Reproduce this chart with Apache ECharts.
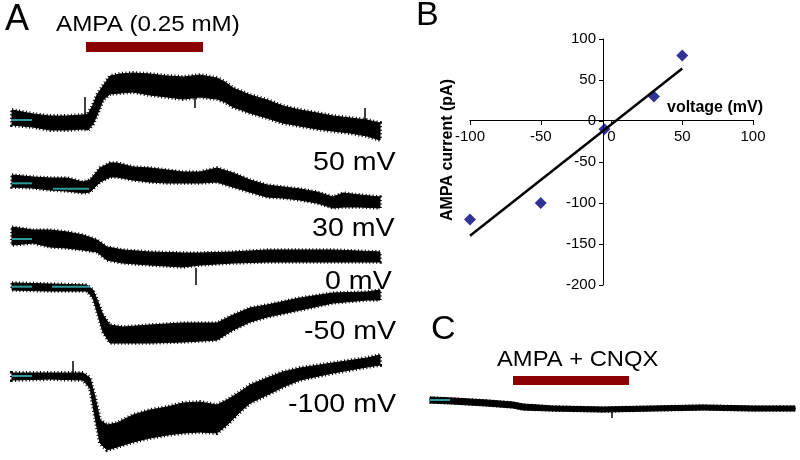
<!DOCTYPE html>
<html><head><meta charset="utf-8">
<script src="https://cdn.jsdelivr.net/npm/echarts@6/dist/echarts.min.js"></script>
<style>html,body{margin:0;padding:0;background:#fff}#c{width:800px;height:460px}</style>
</head><body><div id="c"></div>
<script>
// ---------- DATA ----------
// Panel A traces: time (arbitrary units), upper / lower envelope of the noisy current (relative to baseline)
const t50 = [0,21,38,55,71,76,81,85,91,98,108,121,138,155,171,188,205,213,221,238,255,271,288,305,321,338,355,368];
const hi50 = [10,6,4,4,5,6,15,25,34,44,46,47,46,44,43,45,42,38,32,25,20,14,10,7,4,2,0,-3];
const lo50 = [-5,-7,-10,-10,-9,-10,-4,5,20,26,27,28,25,23,21,23,21,18,13,7,2,-3,-6,-9,-11,-13,-16,-20];

const t30 = [0,21,38,55,71,78,88,98,105,121,138,155,171,188,205,221,238,255,271,288,305,321,331,348,368];
const hi30 = [9,7,6,6,2,4,16,21,21,17,16,14,12,12,16,11,4,-1,-3,-5,-8,-13,-9,-11,-13];
const lo30 = [-3,-4,-6,-7,-9,-8,2,7,7,4,2,1,1,1,2,-3,-8,-13,-14,-16,-19,-24,-23,-23,-24];

const t0 = [0,21,38,55,71,85,95,111,138,171,188,221,255,288,321,368];
const hi0 = [12,9,9,7,4,-1,-8,-11,-13,-14,-14,-13,-11,-11,-11,-13];
const lo0 = [-6,-4,-8,-9,-11,-13,-21,-24,-26,-28,-26,-24,-23,-23,-23,-23];

const tm50 = [0,38,75,81,86,91,98,111,138,171,205,221,238,255,288,321,355,368];
const him50 = [4,3,2,-3,-15,-28,-38,-40,-38,-36,-36,-28,-21,-18,-11,-6,-5,-3];
const lom50 = [-3,-4,-4,-11,-28,-45,-56,-56,-56,-55,-53,-43,-35,-30,-23,-16,-13,-13];

const tm100 = [0,38,71,78,83,88,95,105,121,138,155,171,188,205,215,228,238,255,271,288,321,355,368];
const him100 = [3,3,3,-2,-21,-44,-49,-47,-39,-34,-31,-27,-26,-29,-24,-16,-9,-2,4,8,13,18,21];
const lom100 = [-4,-3,-4,-12,-41,-67,-74,-71,-66,-62,-59,-57,-56,-57,-49,-36,-27,-19,-11,-4,3,9,11];

// Panel C trace (AMPA + CNQX)
const tC = [0,23,57,83,93,123,173,223,273,323,365];
const hiC = [3,2,0,-2,-4,-6,-7,-6,-5,-6,-6];
const loC = [-3,-4,-6,-8,-10,-11,-12,-11,-10,-11,-11];

// artefact spikes: [traceIndex, time, from, to]
const spikes = [[0,73,0,23],[0,183,25,12],[0,353,-10,12],[2,184,-29,-46],[4,61,3,15],[5,182,-12,-18]];
// baseline markers: [traceIndex, tStart, tEnd, level]
const baselineMarks = [[0,0,20,0],[1,0,20,0.7],[1,41,77,-4.7],[2,0,20,0],[3,0,20,0.3],[3,40,78,0.3],[4,0,20,0],[5,0,20,0]];

// drug application periods
const ampaPeriod = [74,191];
const cnqxPeriod = [83,199];

// Panel B: I-V relation
const voltage = [-100,-50,-5,30,50];
const current = [-120,-100,-10,30,80];
const fitVoltage = [-100,50];
const fitCurrent = [-140,64];
const xTicks = [-100,-50,0,50,100];
const yTicks = [-200,-150,-100,-50,0,50,100];

const traceLabels = ['50 mV','30 mV','0 mV','-50 mV','-100 mV'];

// ---------- LAYOUT ----------
const traceBase = [120,184,239,287,376,400];
const traceHalf = [80,80,80,80,80,55];
const traceLabelPos = [[313,162.5],[312,229],[325,282],[304,332],[288,405]];
const grids = [];
const xAxes = [];
const yAxes = [];
traceBase.forEach((b,i) => {
  const h = traceHalf[i];
  if (i < 5) grids.push({left:12, width:368, top:b-h, height:2*h, outerBoundsMode:'none', containLabel:false});
  else grids.push({left:430, width:365, top:b-h, height:2*h, outerBoundsMode:'none', containLabel:false});
  xAxes.push({gridIndex:i, type:'value', min:0, max:i<5?368:365, show:false});
  yAxes.push({gridIndex:i, type:'value', min:-h, max:h, show:false});
});
// panel B: data grid (6), y-axis grid (7), x-axis grid (8) whose bottom edge is at current = 0
grids.push({left:470, width:283, top:39, height:246, outerBoundsMode:'none'});
grids.push({left:603, width:100, top:39, height:246, outerBoundsMode:'none'});
grids.push({left:470, width:283, top:39, height:81, outerBoundsMode:'none'});
const axisFont = {fontFamily:'Liberation Sans', fontSize:15, color:'#000'};
xAxes.push({gridIndex:6, type:'value', min:xTicks[0], max:xTicks[xTicks.length-1], show:false});
yAxes.push({gridIndex:6, type:'value', min:yTicks[0], max:yTicks[yTicks.length-1], show:false});
xAxes.push({gridIndex:7, type:'value', min:-100, max:100, show:false});
yAxes.push({gridIndex:7, type:'value', min:yTicks[0], max:yTicks[yTicks.length-1], interval:50, position:'left',
  axisLine:{show:true, onZero:false, lineStyle:{color:'#000', width:1}},
  axisTick:{show:true, length:4, lineStyle:{color:'#000'}},
  axisLabel:Object.assign({margin:7}, axisFont), splitLine:{show:false}});
xAxes.push({gridIndex:8, type:'value', min:xTicks[0], max:xTicks[xTicks.length-1], interval:50, position:'bottom',
  axisLine:{show:true, onZero:false, lineStyle:{color:'#000', width:1}},
  axisTick:{show:true, length:5, lineStyle:{color:'#000'}},
  axisLabel:Object.assign({margin:9}, axisFont), splitLine:{show:false}});
yAxes.push({gridIndex:8, type:'value', min:0, max:100, show:false});

function band(gi, t, hi, lo, fuzz) {
  return {type:'custom', xAxisIndex:gi, yAxisIndex:gi, clip:false, silent:true,
    data:[[t[0], hi[0]]],
    renderItem: function(params, api) {
      const pts = [];
      for (let i=0;i<t.length;i++) pts.push(api.coord([t[i], hi[i]]));
      for (let i=t.length-1;i>=0;i--) pts.push(api.coord([t[i], lo[i]]));
      return {type:'group', children:[
        {type:'polygon', shape:{points:pts}, style:{fill:'#000', stroke:'#000', lineWidth:1}},
        {type:'polygon', shape:{points:pts}, style:{fill:null, stroke:'#000', lineWidth:fuzz, lineDash:[1,2.5], lineCap:'butt'}}
      ]};
    }};
}
const series = [];
series.push(band(0,t50,hi50,lo50,4));
series.push(band(1,t30,hi30,lo30,3.5));
series.push(band(2,t0,hi0,lo0,3.5));
series.push(band(3,tm50,him50,lom50,3.5));
series.push(band(4,tm100,him100,lom100,4));
series.push(band(5,tC,hiC,loC,1.5));
spikes.forEach(s => {
  series.push({type:'line', xAxisIndex:s[0], yAxisIndex:s[0], data:[[s[1],s[2]],[s[1],s[3]]],
    symbol:'none', silent:true, lineStyle:{color:'#000', width:1.5}, z:3});
});
baselineMarks.forEach(m => {
  series.push({type:'line', xAxisIndex:m[0], yAxisIndex:m[0], data:[[m[1],m[3]],[m[2],m[3]]],
    symbol:'none', silent:true, lineStyle:{color:'#2a9a9a', width:2}, z:4});
});
// drug bars
const ampaBarLevel = 73, cnqxBarLevel = 19.5;
series.push({type:'line', xAxisIndex:0, yAxisIndex:0, data:[[ampaPeriod[0],ampaBarLevel],[ampaPeriod[1],ampaBarLevel]],
  symbol:'none', silent:true, lineStyle:{color:'#8b0000', width:10, cap:'butt'}});
series.push({type:'line', xAxisIndex:5, yAxisIndex:5, data:[[cnqxPeriod[0],cnqxBarLevel],[cnqxPeriod[1],cnqxBarLevel]],
  symbol:'none', silent:true, lineStyle:{color:'#8b0000', width:9, cap:'butt'}});
// panel B
series.push({type:'scatter', xAxisIndex:6, yAxisIndex:6, data:voltage.map((v,i)=>[v,current[i]]),
  symbol:'diamond', symbolSize:[12,12], itemStyle:{color:'#00007a'}, z:3});
series.push({type:'line', xAxisIndex:6, yAxisIndex:6, data:fitVoltage.map((v,i)=>[v,fitCurrent[i]]),
  symbol:'none', lineStyle:{color:'#000', width:2.5}, z:4});

function txt(str, x, y, size, opts) {
  opts = opts || {};
  return {type:'text', x:x, y:y, scaleX:opts.sx||1, rotation:opts.rot||0, z:10,
    style:{text:str, x:0, y:0, font:(opts.bold?'bold ':'')+size+'px "Liberation Sans", Arial, sans-serif',
      fill:'#000', textAlign:opts.align||'left', textVerticalAlign:'middle'}};
}
const graphics = [
  txt('A', 5, 20, 36),
  txt('AMPA (0.25 mM)', 56, 25, 22, {sx:1.1}),
  txt('B', 416, 16, 34),
  txt('C', 431, 330, 34),
  txt('AMPA + CNQX', 497, 360, 22, {sx:1.08}),
  txt('voltage (mV)', 667, 108, 16, {bold:true}),
  txt('AMPA current (pA)', 448, 150, 16, {bold:true, rot:Math.PI/2, align:'center'})
];
traceLabels.forEach((l,i) => graphics.push(txt(l, traceLabelPos[i][0], traceLabelPos[i][1], 26, {sx:1.1})));

const chart = echarts.init(document.getElementById('c'), null, {renderer:'canvas'});
chart.setOption({animation:false, backgroundColor:'#fff', grid:grids, xAxis:xAxes, yAxis:yAxes, series:series, graphic:graphics});
</script></body></html>
